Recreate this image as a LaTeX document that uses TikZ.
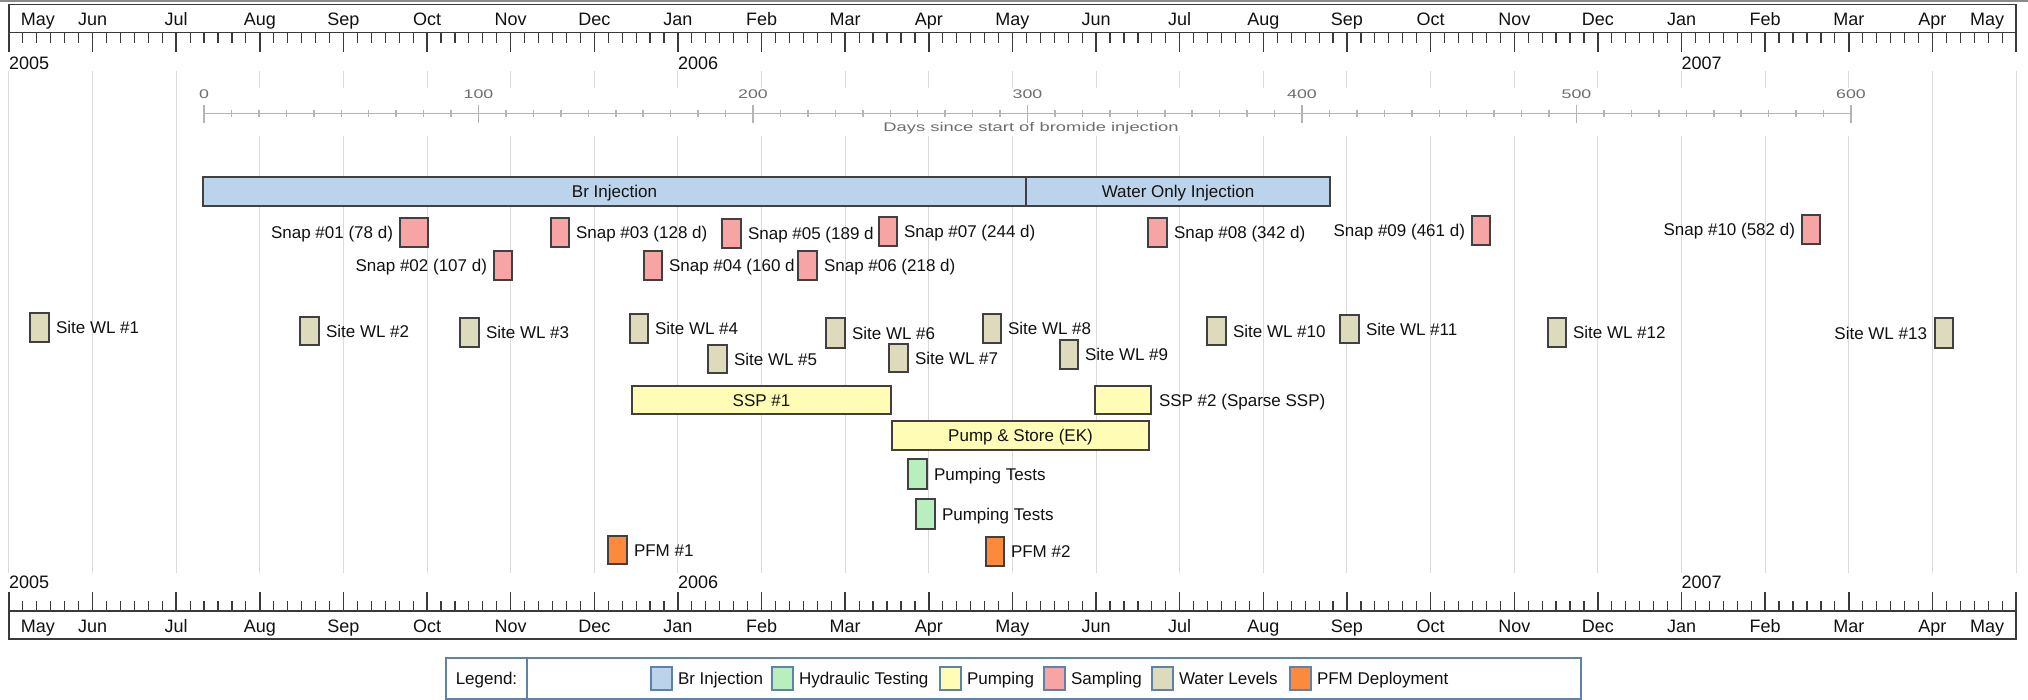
\documentclass[tikz,border=0pt]{standalone}
\usepackage{fontspec}
\setmainfont{Liberation Sans}
\usepackage{graphicx}
\definecolor{brblue}{HTML}{BCD4EB}
\definecolor{htg}{HTML}{B9EFBF}
\definecolor{pumpy}{HTML}{FFFDB5}
\definecolor{snapp}{HTML}{F7A4A4}
\definecolor{wlk}{HTML}{DDDBBB}
\definecolor{pfmo}{HTML}{FB8A3C}
\definecolor{edge}{HTML}{404040}
\definecolor{legc}{HTML}{5F82A8}
\definecolor{gridc}{HTML}{DADADA}
\definecolor{axc}{HTML}{3A3A3A}
\definecolor{topc}{HTML}{8A8A8A}
\definecolor{daytxt}{HTML}{6E6E6E}
\definecolor{dayln}{HTML}{B4B4B4}
\definecolor{txt}{HTML}{111111}
\newcommand{\mkbox}[7]{\node[#2, anchor=north west, minimum width={(#5-#3)*1pt}, minimum height={(#6-#4)*1pt}] (#1) at (#3,#4) {#7};}
\newcommand{\dstr}[1]{\scalebox{1.42}[1]{#1}}
\newcommand{\dstrt}[1]{\scalebox{1.47}[1]{#1}}
\begin{document}
\begin{tikzpicture}[x=1pt,y=-1pt,
  lbl/.style={font=\fontsize{17}{20}\selectfont, inner sep=0pt, outer sep=0pt, text height=12.2pt, text depth=0pt, text=txt},
  bar/.style={draw=edge, line width=1.4pt, inner sep=0pt, outer sep=0pt, font=\fontsize{17}{20}\selectfont, text height=12.2pt, text depth=0pt, text=txt},
  brbar/.style={bar, fill=brblue},
  pumpbar/.style={bar, fill=pumpy},
  snapbox/.style={bar, fill=snapp},
  wlbox/.style={bar, fill=wlk},
  htbox/.style={bar, fill=htg},
  pfmbox/.style={bar, fill=pfmo},
  mlbl/.style={font=\fontsize{18}{21}\selectfont, inner sep=0pt, text height=12.9pt, text depth=0pt, text=txt},
  ylbl/.style={mlbl, anchor=west},
  gridln/.style={draw=gridc, line width=1pt},
  axbox/.style={draw=axc, line width=1.5pt},
  majt/.style={draw=axc, line width=1.5pt},
  mint/.style={draw=axc, line width=1.2pt},
  dayax/.style={draw=dayln, line width=1.5pt},
  dlbl/.style={font=\fontsize{12.5}{14}\selectfont, text=daytxt, inner sep=0pt},
  swatch/.style={draw=legc, line width=1.3pt, minimum width=21pt, minimum height=23pt, inner sep=0pt, outer sep=0pt, anchor=north west},
  legframe/.style={draw=legc, line width=1.5pt, inner sep=0pt, outer sep=0pt}
]
\useasboundingbox (0,0) rectangle (2028,700);
\fill[white] (0,0) rectangle (2028,700);

% grid lines
\foreach \m in {0,...,24}{\draw[gridln] ({8.9+\m*83.63},71) -- ({8.9+\m*83.63},573);}
\fill[white] (190,88) rectangle (1866,136);

% days axis
\draw[dayax] (204,113.5) -- (1851,113.5);
\foreach \d in {0,10,...,600}{\draw[dayax] ({204+\d*2.745},110) -- ({204+\d*2.745},117);}
\foreach \d in {0,100,...,600}{\draw[dayax] ({204+\d*2.745},105) -- ({204+\d*2.745},123);
  \node[dlbl] (dl\d) at ({204+\d*2.745},94) {\dstr{\d}};}
\node[dlbl] (dtitle) at (1031,128.5) {\dstrt{Days since start of bromide injection}};

% top time axis
\draw[line width=1.5pt, draw=topc] (0,0.8) -- (2028,0.8);
\draw[axbox] (8.9,4.5) rectangle (2016,32.5);
\foreach \m in {0,...,24}{\draw[majt] ({8.9+\m*83.63},32.5) -- ++(0,19.5);}
\foreach \m in {0,...,23}{\foreach \k in {1,...,5}{\draw[mint] ({8.9+(\m+\k/6)*83.63},32.5) -- ++(0,10.5);}}
\node[mlbl] (tmayA) at (38,19) {May};
\foreach \m/\n in {1/Jun,2/Jul,3/Aug,4/Sep,5/Oct,6/Nov,7/Dec,8/Jan,9/Feb,10/Mar,11/Apr,12/May,13/Jun,14/Jul,15/Aug,16/Sep,17/Oct,18/Nov,19/Dec,20/Jan,21/Feb,22/Mar,23/Apr}{\node[mlbl] (tm\m) at ({8.9+\m*83.63},19) {\n};}
\node[mlbl] (tmayB) at (1987,19) {May};
\node[ylbl] (ty05) at (9,63.5) {2005};
\node[ylbl] (ty06) at (678,63.5) {2006};
\node[ylbl] (ty07) at (1681.5,63.5) {2007};

% bottom time axis
\draw[axbox] (8.9,611) -- (8.9,639) -- (2016,639) -- (2016,611) -- cycle;
\draw[draw=axc, line width=2.5pt] (8.9,639) -- (2016,639);
\foreach \m in {0,...,24}{\draw[majt] ({8.9+\m*83.63},611) -- ++(0,-19);}
\foreach \m in {0,...,23}{\foreach \k in {1,...,5}{\draw[mint] ({8.9+(\m+\k/6)*83.63},611) -- ++(0,-10.5);}}
\node[mlbl] (bmayA) at (38,626) {May};
\foreach \m/\n in {1/Jun,2/Jul,3/Aug,4/Sep,5/Oct,6/Nov,7/Dec,8/Jan,9/Feb,10/Mar,11/Apr,12/May,13/Jun,14/Jul,15/Aug,16/Sep,17/Oct,18/Nov,19/Dec,20/Jan,21/Feb,22/Mar,23/Apr}{\node[mlbl] (bm\m) at ({8.9+\m*83.63},626) {\n};}
\node[mlbl] (bmayB) at (1987,626) {May};
\node[ylbl] (by05) at (9,582) {2005};
\node[ylbl] (by06) at (678,582) {2006};
\node[ylbl] (by07) at (1681.5,582) {2007};

% injection
\mkbox{br}{brbar}{203}{177}{1026}{206}{Br Injection}
\mkbox{wo}{brbar}{1026}{177}{1330}{206}{Water Only Injection}

% sampling snapshots
\mkbox{s1}{snapbox}{400}{218}{428}{247}{}
\node[lbl, anchor=east] (s1l) at ([xshift=-7pt]s1.west) {Snap \#01 (78 d)};
\mkbox{s2}{snapbox}{494}{251}{512}{280}{}
\node[lbl, anchor=east] (s2l) at ([xshift=-7pt]s2.west) {Snap \#02 (107 d)};
\mkbox{s3}{snapbox}{551}{218}{569}{247}{}
\node[lbl, anchor=west] (s3l) at ([xshift=7pt]s3.east) {Snap \#03 (128 d)};
\mkbox{s4}{snapbox}{644}{251}{662}{280}{}
\node[lbl, anchor=west] (s4l) at ([xshift=7pt]s4.east) {Snap \#04 (160 d};
\mkbox{s5}{snapbox}{722}{219}{741}{248}{}
\node[lbl, anchor=west] (s5l) at ([xshift=7pt]s5.east) {Snap \#05 (189 d};
\mkbox{s6}{snapbox}{798}{251}{817}{280}{}
\node[lbl, anchor=west] (s6l) at ([xshift=7pt]s6.east) {Snap \#06 (218 d)};
\mkbox{s7}{snapbox}{879}{217}{897}{246}{}
\node[lbl, anchor=west] (s7l) at ([xshift=7pt]s7.east) {Snap \#07 (244 d)};
\mkbox{s8}{snapbox}{1148}{218}{1167}{247}{}
\node[lbl, anchor=west] (s8l) at ([xshift=7pt]s8.east) {Snap \#08 (342 d)};
\mkbox{s9}{snapbox}{1472}{216}{1490}{245}{}
\node[lbl, anchor=east] (s9l) at ([xshift=-7pt]s9.west) {Snap \#09 (461 d)};
\mkbox{s10}{snapbox}{1802}{215}{1820}{244}{}
\node[lbl, anchor=east] (s10l) at ([xshift=-7pt]s10.west) {Snap \#10 (582 d)};

% water levels
\mkbox{w1}{wlbox}{30}{313}{49}{342}{}
\node[lbl, anchor=west] (w1l) at ([xshift=7pt]w1.east) {Site WL \#1};
\mkbox{w2}{wlbox}{300}{317}{319}{345}{}
\node[lbl, anchor=west] (w2l) at ([xshift=7pt]w2.east) {Site WL \#2};
\mkbox{w3}{wlbox}{460}{318}{479}{347}{}
\node[lbl, anchor=west] (w3l) at ([xshift=7pt]w3.east) {Site WL \#3};
\mkbox{w4}{wlbox}{630}{314}{648}{343}{}
\node[lbl, anchor=west] (w4l) at ([xshift=7pt]w4.east) {Site WL \#4};
\mkbox{w5}{wlbox}{708}{345}{727}{373}{}
\node[lbl, anchor=west] (w5l) at ([xshift=7pt]w5.east) {Site WL \#5};
\mkbox{w6}{wlbox}{826}{318}{845}{348}{}
\node[lbl, anchor=west] (w6l) at ([xshift=7pt]w6.east) {Site WL \#6};
\mkbox{w7}{wlbox}{889}{344}{908}{372}{}
\node[lbl, anchor=west] (w7l) at ([xshift=7pt]w7.east) {Site WL \#7};
\mkbox{w8}{wlbox}{983}{314}{1001}{343}{}
\node[lbl, anchor=west] (w8l) at ([xshift=7pt]w8.east) {Site WL \#8};
\mkbox{w9}{wlbox}{1060}{340}{1078}{369}{}
\node[lbl, anchor=west] (w9l) at ([xshift=7pt]w9.east) {Site WL \#9};
\mkbox{w10}{wlbox}{1207}{317}{1226}{345}{}
\node[lbl, anchor=west] (w10l) at ([xshift=7pt]w10.east) {Site WL \#10};
\mkbox{w11}{wlbox}{1340}{315}{1359}{343}{}
\node[lbl, anchor=west] (w11l) at ([xshift=7pt]w11.east) {Site WL \#11};
\mkbox{w12}{wlbox}{1548}{318}{1566}{347}{}
\node[lbl, anchor=west] (w12l) at ([xshift=7pt]w12.east) {Site WL \#12};
\mkbox{w13}{wlbox}{1935}{318}{1953}{348}{}
\node[lbl, anchor=east] (w13l) at ([xshift=-8pt]w13.west) {Site WL \#13};

% pumping
\mkbox{ssp1}{pumpbar}{632}{386}{891}{414}{SSP \#1}
\mkbox{ssp2}{pumpbar}{1095}{386}{1151}{414}{}
\node[lbl, anchor=west] (ssp2l) at ([xshift=8pt]ssp2.east) {SSP \#2 (Sparse SSP)};
\mkbox{ps}{pumpbar}{892}{421}{1149}{450}{Pump \& Store (EK)}

% hydraulic testing
\mkbox{pt1}{htbox}{908}{459}{927}{489}{}
\node[lbl, anchor=west] (pt1l) at ([xshift=7pt]pt1.east) {Pumping Tests};
\mkbox{pt2}{htbox}{916}{499}{935}{529}{}
\node[lbl, anchor=west] (pt2l) at ([xshift=7pt]pt2.east) {Pumping Tests};

% PFM
\mkbox{pfm1}{pfmbox}{608}{536}{627}{564}{}
\node[lbl, anchor=west] (pfm1l) at ([xshift=7pt]pfm1.east) {PFM \#1};
\mkbox{pfm2}{pfmbox}{986}{537}{1004}{566}{}
\node[lbl, anchor=west] (pfm2l) at ([xshift=7pt]pfm2.east) {PFM \#2};

% legend
\mkbox{leg}{legframe}{446}{658}{1581}{699}{}
\mkbox{legl}{legframe}{446}{658}{527}{699}{}
\node[lbl] (legt) at (legl.center) {Legend:};
\node[swatch, fill=brblue] (lg1) at (651,667) {};
\node[lbl, anchor=west] (lg1t) at ([xshift=6pt]lg1.east) {Br Injection};
\node[swatch, fill=htg] (lg2) at (772,667) {};
\node[lbl, anchor=west] (lg2t) at ([xshift=6pt]lg2.east) {Hydraulic Testing};
\node[swatch, fill=pumpy] (lg3) at (940,667) {};
\node[lbl, anchor=west] (lg3t) at ([xshift=6pt]lg3.east) {Pumping};
\node[swatch, fill=snapp] (lg4) at (1044,667) {};
\node[lbl, anchor=west] (lg4t) at ([xshift=6pt]lg4.east) {Sampling};
\node[swatch, fill=wlk] (lg5) at (1152,667) {};
\node[lbl, anchor=west] (lg5t) at ([xshift=6pt]lg5.east) {Water Levels};
\node[swatch, fill=pfmo] (lg6) at (1290,667) {};
\node[lbl, anchor=west] (lg6t) at ([xshift=6pt]lg6.east) {PFM Deployment};
\end{tikzpicture}
\end{document}
